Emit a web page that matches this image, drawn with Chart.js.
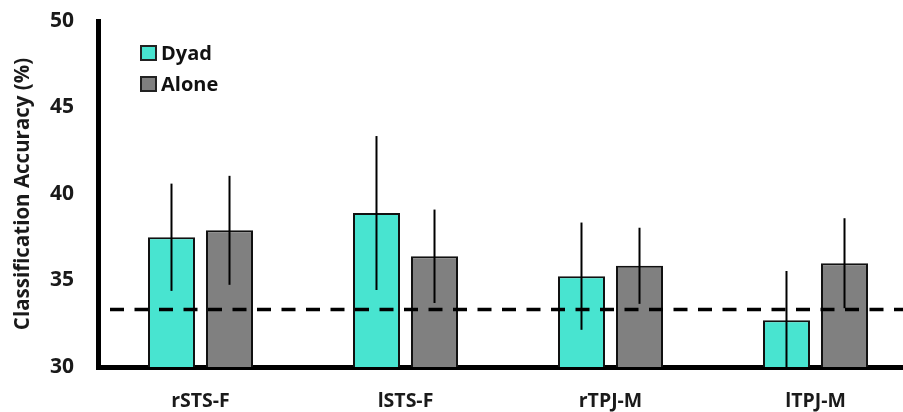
<!DOCTYPE html>
<html>
<head>
<title>Classification Accuracy</title>
<script src="https://cdn.jsdelivr.net/npm/chart.js"></script>
<style>
body {
    margin:0;
    background:white;
    overflow:hidden;
}
.wrap {
    width:903px;
    height:412px;
    overflow:hidden;
}
</style>
</head>
<body>

<div class="wrap">
<canvas id="chart" width="930" height="412"></canvas>
</div>

<script>
// ---------------- DATA ----------------
const regions = ["rSTS-F", "lSTS-F", "rTPJ-M", "lTPJ-M"];
const dyad = [37.5, 38.9, 35.25, 32.7];
const dyadErr = [3.1, 4.45, 3.1, 2.85];
const alone = [37.9, 36.4, 35.85, 36.0];
const aloneErr = [3.15, 2.7, 2.2, 2.6];
const chance = 33.33;
const yTicks = [30, 35, 40, 45, 50];

const errors = [dyadErr, aloneErr];
const FONT = "'Open Sans', Arial, sans-serif";

// ---------------- PLUGINS ----------------
const extras = {
    id:"extras",
    afterDatasetsDraw(chart){
        const ctx = chart.ctx;
        const y = chart.scales.y;
        const area = chart.chartArea;

        // error bars
        ctx.save();
        ctx.beginPath();
        ctx.rect(area.left, area.top - 5, area.right - area.left, area.bottom - area.top + 5);
        ctx.clip();
        ctx.strokeStyle = "#000";
        ctx.lineWidth = 2;
        chart.data.datasets.forEach((ds, di)=>{
            chart.getDatasetMeta(di).data.forEach((bar, i)=>{
                const v = ds.data[i], e = errors[di][i];
                ctx.beginPath();
                ctx.moveTo(bar.x, y.getPixelForValue(v + e));
                ctx.lineTo(bar.x, y.getPixelForValue(v - e));
                ctx.stroke();
            });
        });
        ctx.restore();

        // chance line
        const cy = y.getPixelForValue(chance);
        ctx.save();
        ctx.strokeStyle = "#000";
        ctx.lineWidth = 3.5;
        ctx.setLineDash([14, 10.5]);
        ctx.beginPath();
        ctx.moveTo(area.left + 12, cy);
        ctx.lineTo(area.right, cy);
        ctx.stroke();
        ctx.restore();

        // legend
        ctx.save();
        ctx.font = "bold 20px " + FONT;
        ctx.textBaseline = "middle";
        chart.data.datasets.forEach((ds, di)=>{
            const ly = 53 + di * 31;
            ctx.fillStyle = ds.backgroundColor;
            ctx.fillRect(141, ly - 7, 15, 14);
            ctx.strokeStyle = "#222";
            ctx.lineWidth = 2;
            ctx.strokeRect(141, ly - 7, 15, 14);
            ctx.fillStyle = "#111";
            ctx.fillText(ds.label, 161, ly + 1);
        });
        ctx.restore();
    }
};

// ---------------- CHART ----------------
new Chart(document.getElementById("chart"), {
    type:"bar",
    data:{
        labels:regions,
        datasets:[
            {label:"Dyad", data:dyad, backgroundColor:"#48E4D0", borderColor:"#111", borderWidth:2},
            {label:"Alone", data:alone, backgroundColor:"#808080", borderColor:"#111", borderWidth:2}
        ]
    },
    options:{
        responsive:false,
        animation:false,
        categoryPercentage:0.566,
        barPercentage:0.81,
        layout:{ padding:{ top:21, right:12, left:0, bottom:0 } },
        plugins:{
            legend:{ display:false },
            tooltip:{ enabled:false }
        },
        scales:{
            x:{
                grid:{ display:false, drawTicks:false },
                border:{ display:true, color:"#000", width:5 },
                ticks:{ color:"#1a1a1a", font:{ family:FONT, weight:"bold", size:19.5 }, padding:23 },
                afterFit(s){ s.height = 45; s.paddingLeft = 0; s.paddingRight = 0; }
            },
            y:{
                min:30,
                max:50,
                afterBuildTicks(s){ s.ticks = yTicks.map(v=>({value:v})); },
                grid:{ display:false, drawTicks:false },
                border:{ display:true, color:"#000", width:5 },
                ticks:{ color:"#1a1a1a", font:{ family:FONT, weight:"bold", size:21 }, padding:24 },
                title:{
                    display:true,
                    text:"Classification Accuracy (%)",
                    color:"#1a1a1a",
                    font:{ family:FONT, weight:"bold", size:20.5, lineHeight:1.2 },
                    padding:{ top:10.5, bottom:0 }
                },
                afterFit(s){ s.width = 98; s.paddingTop = 0; s.paddingBottom = 0; }
            }
        }
    },
    plugins:[extras]
});
</script>

</body>
</html>
